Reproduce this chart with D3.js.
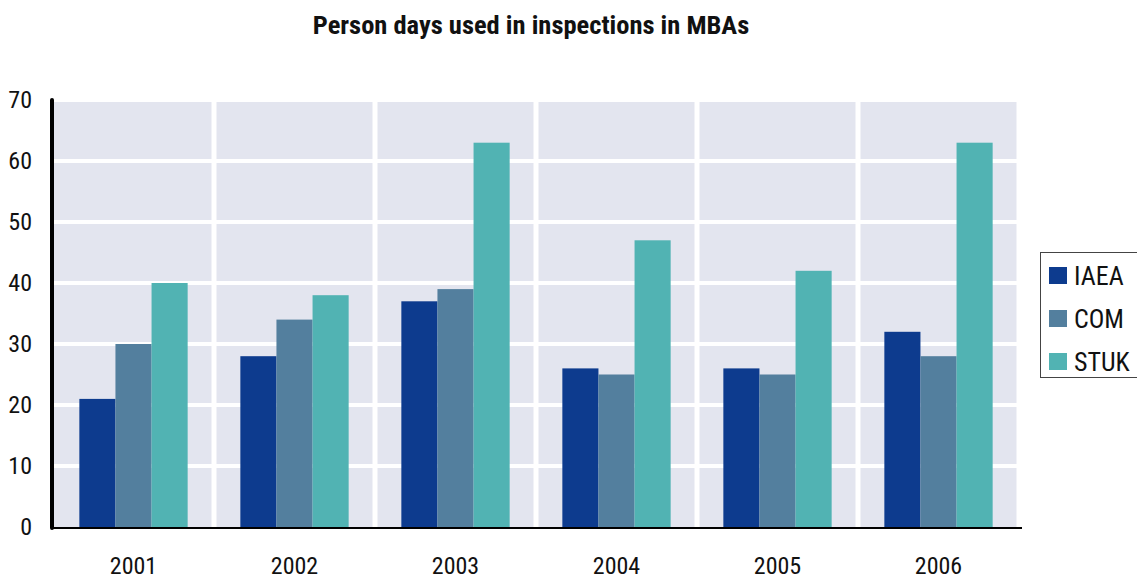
<!DOCTYPE html>
<html><head><meta charset="utf-8">
<script src="https://cdn.jsdelivr.net/npm/d3@7"></script>
<style>body{margin:0;background:#fff;} text{font-family:"Liberation Sans Narrow","Roboto Condensed","Liberation Sans",sans-serif;}</style>
</head><body><svg id="c" width="1137" height="580"></svg>
<script>
const categories = ["2001","2002","2003","2004","2005","2006"];
const seriesNames = ["IAEA","COM","STUK"];
const IAEA = [21,28,37,26,26,32];
const COM  = [30,34,39,25,25,28];
const STUK = [40,38,63,47,42,63];
const yTicks = [0,10,20,30,40,50,60,70];
const colors = ["#0d3b8e","#537f9e","#51b3b3"];
const seriesValues = [IAEA, COM, STUK];

const svg = d3.select("#c");
const pLeft = 53, pRight = 1019, pTop = 100, pBottom = 527;
const x = d3.scaleBand().domain(categories).range([pLeft, pRight]).paddingInner(0).paddingOuter(0);
const xs = d3.scaleBand().domain(seriesNames).range([0, x.bandwidth()]).paddingInner(0).paddingOuter(0.73);
const y = d3.scaleLinear().domain([0,70]).range([pBottom, pTop]);

svg.append("rect").attr("x",pLeft).attr("y",pTop).attr("width",pRight-pLeft).attr("height",pBottom-pTop).attr("fill","#e3e5ef");
// horizontal gridlines
svg.append("g").selectAll("line").data(yTicks.filter(d=>d>0)).join("line")
  .attr("x1",pLeft).attr("x2",pRight).attr("y1",d=>y(d)).attr("y2",d=>y(d))
  .attr("stroke","#fff").attr("stroke-width",4);
// vertical separators
svg.append("g").selectAll("line").data(categories.slice(1).concat(["__end"])).join("line")
  .attr("x1",(d,i)=> i<5 ? x(d) : pRight).attr("x2",(d,i)=> i<5 ? x(d) : pRight)
  .attr("y1",pTop).attr("y2",pBottom).attr("stroke","#fff").attr("stroke-width",5);

// bars
const g = svg.append("g");
seriesNames.forEach((s,si)=>{
  g.append("g").selectAll("rect").data(seriesValues[si]).join("rect")
    .attr("x",(d,i)=>x(categories[i])+xs(s))
    .attr("width",xs.bandwidth())
    .attr("y",d=>y(d)).attr("height",d=>y(0)-y(d))
    .attr("fill",colors[si]);
});

// axes
const yAxis = d3.axisLeft(y).tickValues(yTicks).tickSize(0).tickPadding(20);
const ya = svg.append("g").attr("transform",`translate(${pLeft-1},0)`).call(yAxis);
ya.select(".domain").remove();
ya.selectAll("text").attr("font-size",24).attr("fill","#111").attr("font-family",'"Liberation Sans Narrow",sans-serif');
svg.append("line").attr("x1",pLeft-1).attr("x2",pLeft-1).attr("y1",pTop).attr("y2",pBottom+1)
  .attr("stroke","#000").attr("stroke-width",4).attr("stroke-linecap","round");
svg.append("line").attr("x1",pLeft-1).attr("x2",pRight+3).attr("y1",pBottom+1).attr("y2",pBottom+1)
  .attr("stroke","#000").attr("stroke-width",2);

const xAxis = d3.axisBottom(x).tickSize(0).tickPadding(30);
const xa = svg.append("g").attr("transform",`translate(0,${pBottom})`).call(xAxis);
xa.select(".domain").remove();
xa.selectAll("text").attr("font-size",24).attr("fill","#111").attr("font-family",'"Liberation Sans Narrow",sans-serif');

// title
svg.append("text").attr("x",531).attr("y",34).attr("text-anchor","middle")
  .attr("font-size",26.5).attr("font-weight","bold").attr("fill","#111")
  .text("Person days used in inspections in MBAs");

// legend
const lg = svg.append("g").attr("transform","translate(1040,252)");
lg.append("rect").attr("x",0.5).attr("y",0.5).attr("width",100).attr("height",125)
  .attr("fill","#fff").attr("stroke","#444").attr("stroke-width",1);
seriesNames.forEach((s,i)=>{
  const row = lg.append("g").attr("transform",`translate(9,${15+i*43})`);
  row.append("rect").attr("width",18).attr("height",17).attr("fill",colors[i]);
  row.append("text").attr("x",25).attr("y",18).attr("font-size",26).attr("fill","#111").text(s);
});
</script></body></html>
